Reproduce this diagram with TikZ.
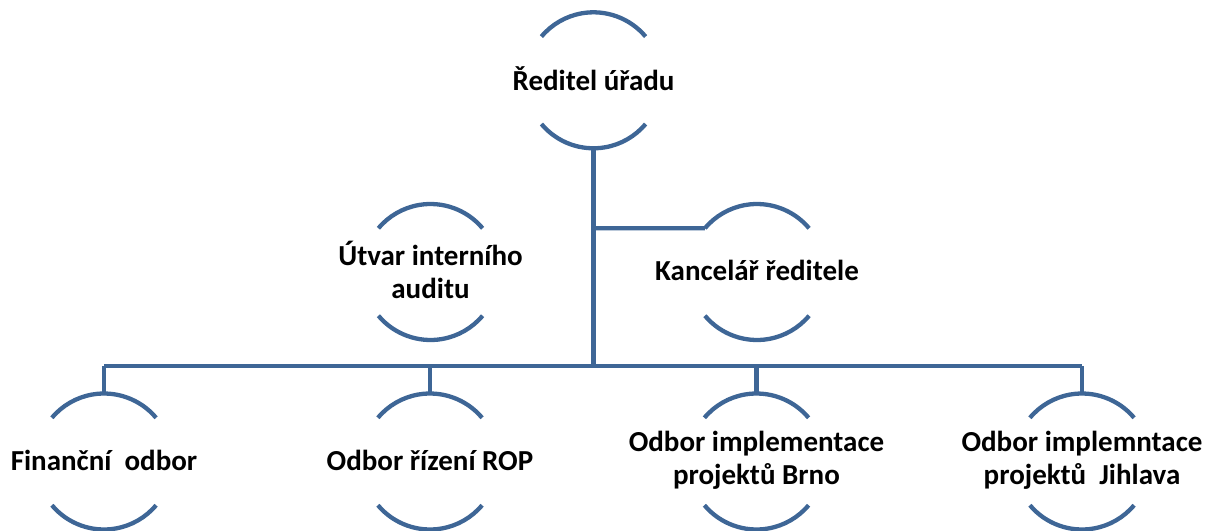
\documentclass[tikz,border=0pt]{standalone}
\usepackage{fontspec}
\setmainfont{Carlito}
\definecolor{ln}{RGB}{62,102,150}
\tikzset{
  arcline/.style={draw=ln, line width=4.3pt},
  conn/.style={draw=ln, line width=4.3pt},
  lbl/.style={align=center, font=\bfseries\fontsize{29}{32.5}\selectfont, inner sep=0pt, text=black},
}
\newcommand\circarcs[1]{%
  \draw[arcline] ([shift={(40:68)}]#1) arc[start angle=40,end angle=140,radius=68];
  \draw[arcline] ([shift={(220:68)}]#1) arc[start angle=220,end angle=320,radius=68];}
\begin{document}
\begin{tikzpicture}[x=1pt,y=1pt]
\useasboundingbox (0,0) rectangle (1207,-530);
% circle centres
\coordinate (cTop) at (593.5,-80.3);
\coordinate (cAud) at (430.5,-272);
\coordinate (cKan) at (757,-272);
\coordinate (cFin) at (104,-461.5);
\coordinate (cRop) at (430,-461.5);
\coordinate (cBrn) at (756.5,-461.5);
\coordinate (cJih) at (1082,-461.5);
\foreach \c in {cTop,cAud,cKan,cFin,cRop,cBrn,cJih}{\circarcs{\c}}
% labels
\node[lbl] (top) at ([yshift=2pt]cTop) {Ředitel úřadu};
\node[lbl] (aud) at ([yshift=2pt]cAud) {Útvar interního\\auditu};
\node[lbl] (kan) at ([yshift=2pt]cKan) {Kancelář ředitele};
\node[lbl] (fin) at ([yshift=1pt]cFin) {Finanční\ \ odbor};
\node[lbl] (rop) at ([yshift=1pt]cRop) {Odbor řízení ROP};
\node[lbl] (brn) at ([yshift=1pt]cBrn) {Odbor implementace\\projektů Brno};
\node[lbl] (jih) at ([yshift=1pt]cJih) {Odbor implemntace\\projektů\ \ Jihlava};
% connector points
\coordinate (topB) at ([yshift=-67.5pt]cTop);
\coordinate (hub) at (593.5,-366);
\coordinate (kanJ) at (593.5,-228.3);
\coordinate (kanA) at ([shift={(140:68)}]cKan);
\coordinate (barL) at (104,-366);
\coordinate (barR) at (1082,-366);
\coordinate (finT) at ([yshift=67.5pt]cFin);
\coordinate (ropT) at ([yshift=67.5pt]cRop);
\coordinate (brnT) at ([yshift=67.5pt]cBrn);
\coordinate (jihT) at ([yshift=67.5pt]cJih);
\draw[conn] (topB) -- (hub);
\draw[conn] (kanJ) -- (kanA);
\draw[conn] (barL) -- (barR);
\draw[conn] (finT) -- (finT |- barL);
\draw[conn] (ropT) -- (ropT |- barL);
\draw[conn] (brnT) -- (brnT |- barL);
\draw[conn] (jihT) -- (jihT |- barL);
\end{tikzpicture}
\end{document}
